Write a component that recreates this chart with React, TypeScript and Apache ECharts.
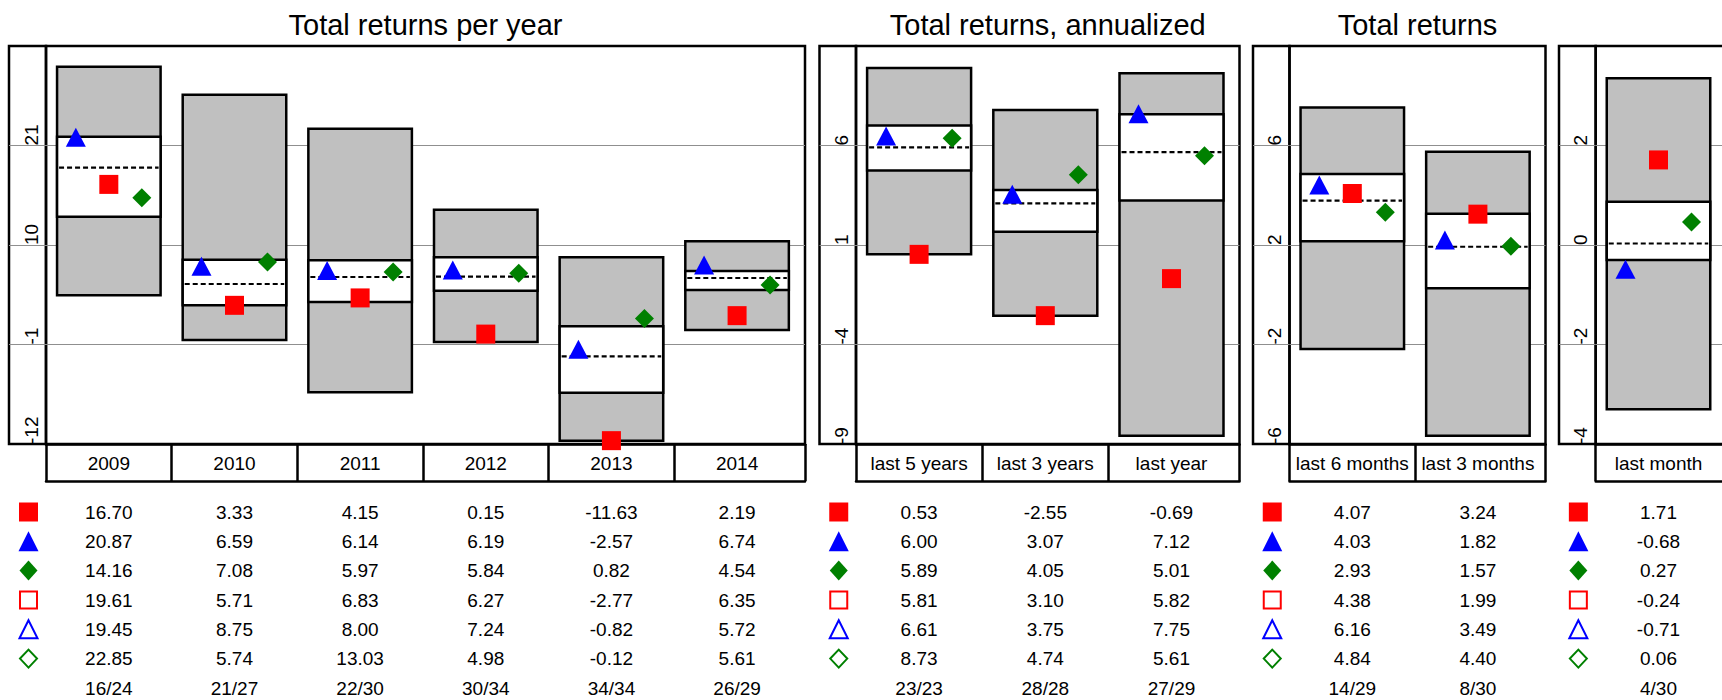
import React, { useEffect, useRef } from 'react';
import * as echarts from 'echarts';

// ---------- data ----------
const titles = ['Total returns per year', 'Total returns, annualized', 'Total returns', ''];

const cats1 = ['2009', '2010', '2011', '2012', '2013', '2014'];
const square1 = [16.70, 3.33, 4.15, 0.15, -11.63, 2.19];
const triangle1 = [20.87, 6.59, 6.14, 6.19, -2.57, 6.74];
const diamond1 = [14.16, 7.08, 5.97, 5.84, 0.82, 4.54];
const openSquare1 = [19.61, 5.71, 6.83, 6.27, -2.77, 6.35];
const openTriangle1 = [19.45, 8.75, 8.00, 7.24, -0.82, 5.72];
const openDiamond1 = [22.85, 5.74, 13.03, 4.98, -0.12, 5.61];
const counts1 = ['16/24', '21/27', '22/30', '30/34', '34/34', '26/29'];
// [low, q1, median, q3, high]
const boxes1 = [
  [4.44, 13.13, 18.55, 21.97, 29.71],
  [-0.5, 3.33, 5.69, 8.38, 26.62],
  [-6.29, 3.7, 6.46, 8.31, 22.86],
  [-0.72, 4.95, 6.5, 8.64, 13.9],
  [-11.63, -6.33, -2.31, 1.01, 8.64],
  [0.6, 5.03, 6.35, 7.13, 10.41],
];

const cats2 = ['last 5 years', 'last 3 years', 'last year'];
const square2 = [0.53, -2.55, -0.69];
const triangle2 = [6.00, 3.07, 7.12];
const diamond2 = [5.89, 4.05, 5.01];
const openSquare2 = [5.81, 3.10, 5.82];
const openTriangle2 = [6.61, 3.75, 7.75];
const openDiamond2 = [8.73, 4.74, 5.61];
const counts2 = ['23/23', '28/28', '27/29'];
const boxes2 = [
  [0.53, 4.75, 5.91, 7.0, 9.89],
  [-2.55, 1.67, 3.09, 3.76, 7.78],
  [-8.58, 3.24, 5.67, 7.57, 9.63],
];

const cats3 = ['last 6 months', 'last 3 months'];
const square3 = [4.07, 3.24];
const triangle3 = [4.03, 1.82];
const diamond3 = [2.93, 1.57];
const openSquare3 = [4.38, 1.99];
const openTriangle3 = [6.16, 3.49];
const openDiamond3 = [4.84, 4.40];
const counts3 = ['14/29', '8/30'];
const boxes3 = [
  [-2.18, 2.15, 3.78, 4.85, 7.53],
  [-5.67, 0.26, 1.93, 3.26, 5.75],
];

const cats4 = ['last month'];
const square4 = [1.71];
const triangle4 = [-0.68];
const diamond4 = [0.27];
const openSquare4 = [-0.24];
const openTriangle4 = [-0.71];
const openDiamond4 = [0.06];
const counts4 = ['4/30'];
const boxes4 = [[-3.3, -0.3, 0.03, 0.87, 3.35]];

// y axis scales: [min, max, interval]
const yScale1 = [-12, 32, 11];
const yScale2 = [-9, 11, 5];
const yScale3 = [-6, 10, 4];
const yScale4 = [-4, 4, 2];

// ---------- layout ----------
const FONT = "'Liberation Sans', Arial, Helvetica, sans-serif";
const TOP = 46;
const HEIGHT = 398;
const LABEL_ROW = 37;
const ROW_OFFSETS = [68, 97.3, 126.6, 156, 185.3, 214.6, 244];
const LW = 2.5;
// left edge of the frame, left edge of the plot, width of one category, right edge of the plot
const layout = [
  { frameLeft: 9, left: 46, cw: 125.65, right: 805 },
  { frameLeft: 819.5, left: 856, cw: 126.2, right: 1239.5 },
  { frameLeft: 1253, left: 1289.5, cw: 125.6, right: 1545.5 },
  { frameLeft: 1559, left: 1595.7, cw: 125.6, right: 1726 },
];

const RED = '#ff0000';
const BLUE = '#0000ff';
const GREEN = '#008000';

function buildOption() {
  const panels = [
    { cats: cats1, sq: square1, tri: triangle1, dia: diamond1, rows: [square1, triangle1, diamond1, openSquare1, openTriangle1, openDiamond1], counts: counts1, boxes: boxes1, scale: yScale1 },
    { cats: cats2, sq: square2, tri: triangle2, dia: diamond2, rows: [square2, triangle2, diamond2, openSquare2, openTriangle2, openDiamond2], counts: counts2, boxes: boxes2, scale: yScale2 },
    { cats: cats3, sq: square3, tri: triangle3, dia: diamond3, rows: [square3, triangle3, diamond3, openSquare3, openTriangle3, openDiamond3], counts: counts3, boxes: boxes3, scale: yScale3 },
    { cats: cats4, sq: square4, tri: triangle4, dia: diamond4, rows: [square4, triangle4, diamond4, openSquare4, openTriangle4, openDiamond4], counts: counts4, boxes: boxes4, scale: yScale4 },
  ];

  const grid: any[] = [];
  const xAxis: any[] = [];
  const yAxis: any[] = [];
  const series: any[] = [];
  const graphic: any[] = [];

  const renderItem = (params: any, api: any) => {
    const x = api.value(0);
    const lo = api.coord([x, api.value(1)]);
    const q1 = api.coord([x, api.value(2)]);
    const md = api.coord([x, api.value(3)]);
    const q3 = api.coord([x, api.value(4)]);
    const hi = api.coord([x, api.value(5)]);
    const w = api.size([1, 0])[0] * 0.824;
    const left = lo[0] - w / 2;
    return {
      type: 'group',
      children: [
        { type: 'rect', shape: { x: left, y: hi[1], width: w, height: lo[1] - hi[1] }, style: { fill: '#c0c0c0', stroke: '#000', lineWidth: LW } },
        { type: 'rect', shape: { x: left, y: q3[1], width: w, height: q1[1] - q3[1] }, style: { fill: '#ffffff', stroke: '#000', lineWidth: LW } },
        { type: 'line', shape: { x1: left + 2, y1: md[1], x2: left + w - 2, y2: md[1] }, style: { stroke: '#000', lineWidth: 2.2, lineDash: [5, 3] } },
      ],
    };
  };

  const split = { show: true, showMinLine: false, showMaxLine: false, lineStyle: { color: '#8f8f8f', width: 1 } };
  const labelFont = { fontSize: 19, color: '#000', fontFamily: FONT };

  panels.forEach((p, pi) => {
    const L = layout[pi];
    const n = p.cats.length;
    const xmin = -0.5;
    const xmax = -0.5 + (L.right - L.left) / L.cw;
    const centers = p.cats.map((_, i) => i);
    const bounds = p.cats.slice(1).map((_, i) => i + 0.5);
    const [ymin, ymax, ystep] = p.scale;

    const gMain = grid.length;
    grid.push({ left: L.left, top: TOP, width: L.right - L.left, height: HEIGHT, show: true, borderColor: '#000', borderWidth: LW, backgroundColor: 'transparent', containLabel: false, outerBoundsMode: 'none' });
    const gNarrow = grid.length;
    grid.push({ left: L.frameLeft, top: TOP, width: L.left - L.frameLeft, height: HEIGHT, show: true, borderColor: '#000', borderWidth: LW, backgroundColor: 'transparent', containLabel: false, outerBoundsMode: 'none' });

    const xMain = xAxis.length;
    xAxis.push({
      type: 'value', gridIndex: gMain, position: 'bottom', min: xmin, max: xmax,
      axisLine: { show: true, onZero: false, lineStyle: { color: '#000', width: LW } },
      axisTick: { show: true, length: LABEL_ROW, customValues: [xmin, ...bounds, xmax], lineStyle: { color: '#000', width: LW } },
      axisLabel: { customValues: centers, formatter: (v: number) => p.cats[Math.round(v)] ?? '', margin: 19.5, verticalAlign: 'middle', ...labelFont },
      splitLine: { show: false },
    });
    xAxis.push({
      type: 'value', gridIndex: gMain, position: 'bottom', offset: LABEL_ROW, min: xmin, max: xmax,
      axisLine: { show: true, onZero: false, lineStyle: { color: '#000', width: LW } },
      axisTick: { show: false }, axisLabel: { show: false }, splitLine: { show: false },
    });
    const rows: string[][] = [...p.rows.map((r) => r.map((v) => v.toFixed(2))), p.counts];
    rows.forEach((r, ri) => {
      xAxis.push({
        type: 'value', gridIndex: gMain, position: 'bottom', offset: ROW_OFFSETS[ri], min: xmin, max: xmax,
        axisLine: { show: false, onZero: false }, axisTick: { show: false }, splitLine: { show: false },
        axisLabel: { customValues: centers, formatter: (v: number) => r[Math.round(v)] ?? '', margin: 0, verticalAlign: 'middle', ...labelFont },
      });
    });
    xAxis.push({ type: 'value', gridIndex: gNarrow, show: false, min: 0, max: 1 });

    const yMain = yAxis.length;
    yAxis.push({
      type: 'value', gridIndex: gMain, position: 'left', min: ymin, max: ymax, interval: ystep,
      axisLine: { show: false }, axisTick: { show: false },
      axisLabel: { showMaxLabel: false, rotate: 90, align: 'left', verticalAlign: 'middle', margin: 15, ...labelFont },
      splitLine: split,
    });
    yAxis.push({
      type: 'value', gridIndex: gNarrow, min: ymin, max: ymax, interval: ystep,
      axisLine: { show: false }, axisTick: { show: false }, axisLabel: { show: false },
      splitLine: split,
    });

    series.push({
      type: 'custom', xAxisIndex: xMain, yAxisIndex: yMain, renderItem, clip: false, z: 2,
      data: p.boxes.map((b, i) => [i, ...b]), encode: { x: 0, y: [1, 2, 3, 4, 5] }, silent: true,
    });
    series.push({ type: 'scatter', xAxisIndex: xMain, yAxisIndex: yMain, data: p.tri.map((v, i) => [i, v]), symbol: 'triangle', symbolSize: [20, 19], symbolOffset: [-33, '-50%'], itemStyle: { color: BLUE, opacity: 1 }, z: 4, silent: true });
    series.push({ type: 'scatter', xAxisIndex: xMain, yAxisIndex: yMain, data: p.sq.map((v, i) => [i, v]), symbol: 'rect', symbolSize: 19, itemStyle: { color: RED, opacity: 1 }, z: 4, silent: true });
    series.push({ type: 'scatter', xAxisIndex: xMain, yAxisIndex: yMain, data: p.dia.map((v, i) => [i, v]), symbol: 'diamond', symbolSize: [19, 19], symbolOffset: [33, '-50%'], itemStyle: { color: GREEN, opacity: 1 }, z: 4, silent: true });

    // title
    if (titles[pi]) {
      graphic.push({ type: 'text', x: (L.left + L.right) / 2, y: 25, style: { text: titles[pi], font: `29px ${FONT}`, fill: '#000', textAlign: 'center', textVerticalAlign: 'middle' } });
    }

    // legend keys of the table
    const cx = (L.frameLeft + L.left) / 2 + 1;
    const ys = ROW_OFFSETS.map((o) => TOP + HEIGHT + o);
    graphic.push({ type: 'rect', shape: { x: cx - 9.5, y: ys[0] - 9.5, width: 19, height: 19 }, style: { fill: RED } });
    graphic.push({ type: 'polygon', shape: { points: [[cx, ys[1] - 10], [cx - 10, ys[1] + 10], [cx + 10, ys[1] + 10]] }, style: { fill: BLUE } });
    graphic.push({ type: 'polygon', shape: { points: [[cx, ys[2] - 10], [cx + 9, ys[2]], [cx, ys[2] + 10], [cx - 9, ys[2]]] }, style: { fill: GREEN } });
    graphic.push({ type: 'rect', shape: { x: cx - 8.5, y: ys[3] - 8.5, width: 17, height: 17 }, style: { fill: 'none', stroke: RED, lineWidth: 2 } });
    graphic.push({ type: 'polygon', shape: { points: [[cx, ys[4] - 9], [cx - 9, ys[4] + 9], [cx + 9, ys[4] + 9]] }, style: { fill: 'none', stroke: BLUE, lineWidth: 2 } });
    graphic.push({ type: 'polygon', shape: { points: [[cx, ys[5] - 9], [cx + 8.5, ys[5]], [cx, ys[5] + 9], [cx - 8.5, ys[5]]] }, style: { fill: 'none', stroke: GREEN, lineWidth: 2 } });
  });

  return {
    animation: false,
    backgroundColor: '#ffffff',
    textStyle: { fontFamily: FONT },
    grid,
    xAxis,
    yAxis,
    series,
    graphic,
  };
}

export default function App() {
  const ref = useRef<HTMLDivElement>(null);
  useEffect(() => {
    const chart = echarts.init(ref.current as HTMLDivElement, null, { renderer: 'svg' });
    chart.setOption(buildOption() as any);
    return () => chart.dispose();
  }, []);
  return (
    <div
      ref={ref}
      style={{ position: 'fixed', left: 0, top: 0, width: 1722, height: 700, background: '#fff' }}
    />
  );
}
